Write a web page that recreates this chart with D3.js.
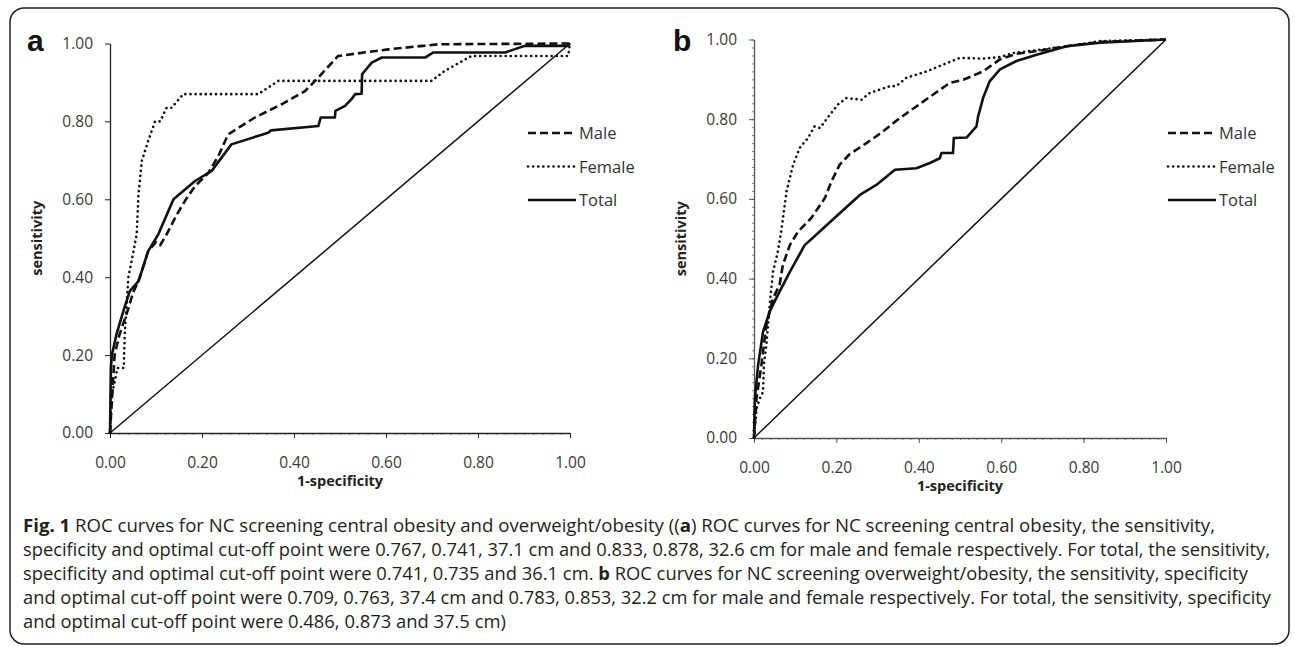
<!DOCTYPE html>
<html><head><meta charset="utf-8">
<script src="https://cdn.jsdelivr.net/npm/d3@7"></script>
<style>
html,body{margin:0;padding:0;background:#fff;}
svg{display:block;}
</style></head>
<body>
<svg id="chart" width="1295" height="647"></svg>
<script>
// ---------- data ----------
const tickValues = [0, 0.2, 0.4, 0.6, 0.8, 1.0];
const seriesNames = ["Male", "Female", "Total"];

// Panel a: central obesity  [1-specificity, sensitivity]
const maleA = [[0,0],[0.005,0.1],[0.01,0.2],[0.02,0.25],[0.04,0.32],[0.05,0.36],[0.065,0.4],[0.083,0.467],[0.1,0.49],[0.109,0.482],[0.123,0.51],[0.145,0.56],[0.163,0.596],[0.185,0.634],[0.214,0.668],[0.235,0.71],[0.257,0.767],[0.315,0.81],[0.373,0.844],[0.424,0.878],[0.446,0.904],[0.496,0.968],[0.605,0.985],[0.714,0.998],[1,1]];
const femaleA = [[0,0],[0.004,0.1],[0.01,0.13],[0.016,0.167],[0.03,0.167],[0.032,0.253],[0.04,0.4],[0.05,0.46],[0.058,0.51],[0.062,0.613],[0.069,0.698],[0.083,0.75],[0.098,0.8],[0.109,0.8],[0.123,0.835],[0.134,0.835],[0.159,0.87],[0.322,0.87],[0.366,0.904],[0.699,0.904],[0.728,0.93],[0.786,0.968],[0.996,0.968],[1,1]];
const totalA = [[0,0],[0.002,0.167],[0.004,0.2],[0.014,0.253],[0.029,0.313],[0.043,0.364],[0.062,0.39],[0.083,0.467],[0.105,0.51],[0.138,0.6],[0.185,0.647],[0.221,0.673],[0.264,0.741],[0.344,0.771],[0.35,0.777],[0.453,0.788],[0.458,0.81],[0.489,0.81],[0.49,0.827],[0.511,0.84],[0.525,0.857],[0.533,0.87],[0.547,0.871],[0.548,0.921],[0.569,0.951],[0.591,0.964],[0.685,0.964],[0.703,0.977],[0.859,0.977],[0.902,0.994],[0.995,0.994],[1,1]];

// Panel b: overweight/obesity
const maleB = [[0,0],[0.006,0.099],[0.018,0.183],[0.03,0.283],[0.046,0.35],[0.062,0.384],[0.07,0.434],[0.087,0.484],[0.107,0.518],[0.139,0.552],[0.172,0.602],[0.188,0.644],[0.208,0.686],[0.232,0.712],[0.273,0.74],[0.313,0.769],[0.354,0.803],[0.394,0.832],[0.435,0.862],[0.475,0.891],[0.508,0.899],[0.556,0.92],[0.597,0.95],[0.637,0.964],[0.686,0.971],[0.759,0.983],[0.84,0.994],[1,1]];
const femaleB = [[0,0],[0.006,0.074],[0.014,0.099],[0.022,0.116],[0.024,0.183],[0.03,0.233],[0.038,0.334],[0.046,0.417],[0.058,0.468],[0.066,0.518],[0.079,0.619],[0.095,0.686],[0.111,0.728],[0.131,0.753],[0.147,0.782],[0.16,0.778],[0.184,0.811],[0.204,0.837],[0.224,0.853],[0.261,0.849],[0.281,0.866],[0.33,0.883],[0.345,0.883],[0.37,0.904],[0.419,0.92],[0.459,0.937],[0.5,0.954],[0.556,0.952],[0.597,0.956],[0.629,0.966],[0.678,0.972],[0.759,0.983],[0.84,0.996],[1,1]];
const totalB = [[0,0],[0.002,0.099],[0.01,0.183],[0.022,0.267],[0.038,0.317],[0.058,0.359],[0.087,0.417],[0.123,0.484],[0.151,0.51],[0.208,0.564],[0.257,0.61],[0.297,0.635],[0.342,0.673],[0.394,0.677],[0.427,0.69],[0.451,0.702],[0.455,0.715],[0.483,0.715],[0.485,0.753],[0.516,0.754],[0.54,0.782],[0.544,0.807],[0.556,0.853],[0.572,0.895],[0.597,0.925],[0.637,0.946],[0.686,0.962],[0.759,0.983],[0.84,0.992],[1,1]];

const refLine = [[0,0],[1,1]];

const captionLines = [
  [["Fig. 1", true], [" ROC curves for NC screening central obesity and overweight/obesity ((", false], ["a", true], [") ROC curves for NC screening central obesity, the sensitivity,", false]],
  [["specificity and optimal cut-off point were 0.767, 0.741, 37.1 cm and 0.833, 0.878, 32.6 cm for male and female respectively. For total, the sensitivity,", false]],
  [["specificity and optimal cut-off point were 0.741, 0.735 and 36.1 cm. ", false], ["b", true], [" ROC curves for NC screening overweight/obesity, the sensitivity, specificity", false]],
  [["and optimal cut-off point were 0.709, 0.763, 37.4 cm and 0.783, 0.853, 32.2 cm for male and female respectively. For total, the sensitivity, specificity", false]],
  [["and optimal cut-off point were 0.486, 0.873 and 37.5 cm)", false]]
];
const captionEnds = [1215, 1270, 1248, 1271, null];

// ---------- drawing ----------
const svg = d3.select("#chart");
const FONT = "'Open Sans', 'DejaVu Sans', sans-serif";

svg.append("rect").attr("x", 10).attr("y", 8).attr("width", 1279).attr("height", 636)
  .attr("rx", 14).attr("fill", "none").attr("stroke", "#222").attr("stroke-width", 1.5);

const styles = {
  Male:   {dash: "8,4", cap: "butt"},
  Female: {dash: "0.1,5", cap: "round"},
  Total:  {dash: null, cap: "butt"}
};

function panel(cfg) {
  const x = d3.scaleLinear().domain([0, 1]).range(cfg.xr);
  const y = d3.scaleLinear().domain([0, 1]).range(cfg.yr);
  const g = svg.append("g");

  const minor = d3.range(0, 1.0001, 0.02);
  g.append("g").attr("transform", `translate(0,${cfg.yr[0]})`)
    .call(d3.axisBottom(x).tickValues(minor).tickSize(2).tickFormat(""))
    .call(s => s.select(".domain").remove())
    .call(s => s.selectAll("line").attr("stroke", "#666").attr("stroke-width", 0.8));
  g.append("g").attr("transform", `translate(${cfg.xr[0]},0)`)
    .call(d3.axisLeft(y).tickValues(minor).tickSize(cfg.minorY).tickFormat(""))
    .call(s => s.select(".domain").remove())
    .call(s => s.selectAll("line").attr("stroke", "#666").attr("stroke-width", 0.8));

  const xa = g.append("g").attr("transform", `translate(0,${cfg.yr[0]})`)
    .call(d3.axisBottom(x).tickValues(tickValues).tickSize(5).tickSizeOuter(0).tickPadding(19).tickFormat(d3.format(".2f")));
  const ya = g.append("g").attr("transform", `translate(${cfg.xr[0]},0)`)
    .call(d3.axisLeft(y).tickValues(tickValues).tickSize(5).tickSizeOuter(0).tickPadding(12).tickFormat(d3.format(".2f")));
  [xa, ya].forEach(a => {
    a.select(".domain").attr("stroke", cfg.axisColor).attr("stroke-width", 1.3);
    a.selectAll(".tick line").attr("stroke", cfg.axisColor).attr("stroke-width", 1);
    a.selectAll("text").attr("font-family", FONT).attr("font-size", 15.5).attr("fill", "#3a3a3a");
  });

  g.append("text").attr("x", (cfg.xr[0] + cfg.xr[1]) / 2).attr("y", cfg.yr[0] + 53)
    .attr("text-anchor", "middle").attr("font-family", FONT).attr("font-size", 14.5)
    .attr("font-weight", "bold").attr("fill", "#222").text("1-specificity");
  g.append("text").attr("transform", `translate(${cfg.xr[0] - 68},${(cfg.yr[0] + cfg.yr[1]) / 2}) rotate(-90)`)
    .attr("text-anchor", "middle").attr("font-family", FONT).attr("font-size", 14.5)
    .attr("font-weight", "bold").attr("fill", "#222").text("sensitivity");

  g.append("text").attr("x", cfg.letterX).attr("y", 51).attr("font-family", "'Liberation Sans', Arial, sans-serif")
    .attr("font-size", 30).attr("font-weight", "bold").attr("fill", "#111").text(cfg.letter);

  const line = d3.line().x(d => x(d[0])).y(d => y(d[1]));
  g.append("path").datum(refLine).attr("d", line).attr("fill", "none").attr("stroke", "#111").attr("stroke-width", 1.5);

  seriesNames.forEach((name, i) => {
    const st = styles[name];
    g.append("path").datum(cfg.data[i]).attr("d", line).attr("fill", "none")
      .attr("stroke", "#111").attr("stroke-width", 2.6).attr("stroke-linejoin", "round")
      .attr("stroke-linecap", st.cap).attr("stroke-dasharray", st.dash);
    const ly = 133 + i * 33.5;
    g.append("line").attr("x1", cfg.legX).attr("x2", cfg.legX + 48).attr("y1", ly).attr("y2", ly)
      .attr("stroke", "#111").attr("stroke-width", 2.6).attr("stroke-linecap", st.cap).attr("stroke-dasharray", st.dash);
    g.append("text").attr("x", cfg.legX + 51).attr("y", ly + 6).attr("font-family", FONT)
      .attr("font-size", 16.5).attr("fill", "#333").text(name);
  });
}

panel({xr: [110, 570], yr: [433, 43.5], data: [maleA, femaleA, totalA], axisColor: "#222", minorY: 0,
       letter: "a", letterX: 27, legX: 528});
panel({xr: [754, 1166], yr: [438, 39.5], data: [maleB, femaleB, totalB], axisColor: "#555", minorY: 2,
       letter: "b", letterX: 673, legX: 1168});

// caption: pick a font size that makes the full lines fit their measured widths
const cap = svg.append("g");
const texts = captionLines.map((ln, i) => {
  const t = cap.append("text").attr("x", 23).attr("y", 532 + i * 24)
    .attr("font-family", FONT).attr("font-size", 16).attr("fill", "#231f20");
  ln.forEach(([s, b]) => t.append("tspan").attr("font-weight", b ? "bold" : null).text(s));
  return t;
});
let ratios = [];
texts.forEach((t, i) => { if (captionEnds[i]) ratios.push((captionEnds[i] - 23) / t.node().getComputedTextLength()); });
const k = d3.mean(ratios);
texts.forEach((t, i) => {
  t.attr("font-size", 16 * k);
  if (captionEnds[i]) t.attr("textLength", captionEnds[i] - 23).attr("lengthAdjust", "spacingAndGlyphs");
});
</script>
</body></html>
